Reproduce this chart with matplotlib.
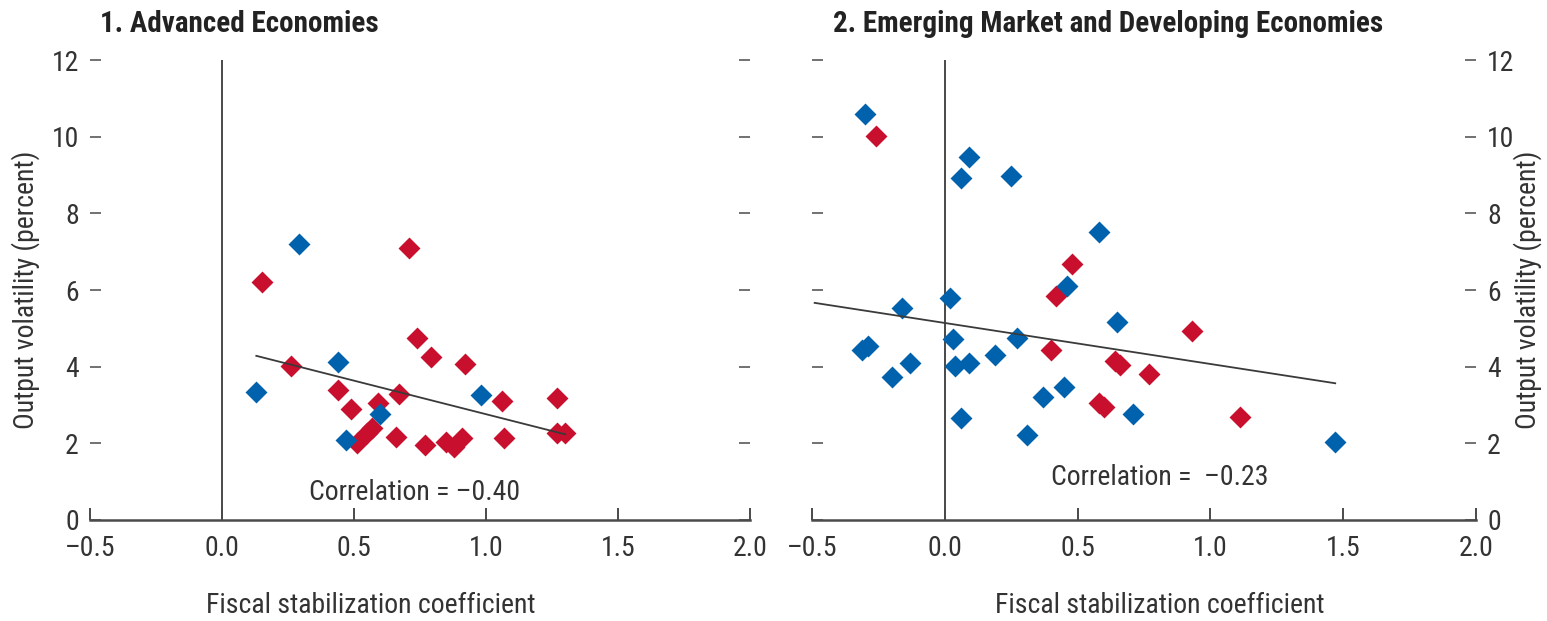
import numpy as np
import matplotlib
matplotlib.use('Agg')
import matplotlib.pyplot as plt
from matplotlib import font_manager


def pick_font(names):
    # first narrow-ish family that is actually installed
    for n in names:
        try:
            font_manager.findfont(n, fallback_to_default=False)
            return n
        except ValueError:
            pass
    return 'DejaVu Sans'


main_font = pick_font(['Roboto Condensed', 'Liberation Sans Narrow',
                       'Open Sans Condensed', 'Liberation Sans'])
plt.rcParams['font.family'] = [main_font, 'DejaVu Sans']

red = '#C8102E'
blue = '#0062AD'
line_color = '#3a3a3a'
text_color = '#333333'

# 1. Advanced economies
ae_red_x = [0.15, 0.71, 0.26, 0.74, 0.79, 0.92, 0.44, 0.49, 0.59, 0.67, 0.55, 0.57,
            0.51, 0.66, 0.77, 0.85, 0.88, 0.91, 1.06, 1.07, 1.27, 1.27, 1.30]
ae_red_y = [6.22, 7.09, 4.03, 4.74, 4.26, 4.07, 3.38, 2.89, 3.05, 3.28, 2.26, 2.39,
            2.00, 2.17, 1.96, 2.04, 1.91, 2.14, 3.10, 2.14, 3.19, 2.27, 2.27]
ae_blue_x = [0.29, 0.13, 0.44, 0.60, 0.47, 0.98]
ae_blue_y = [7.21, 3.33, 4.11, 2.77, 2.09, 3.25]
ae_fit_x = [0.13, 1.30]
ae_fit = (-1.75, 4.51)  # slope, intercept
ae_corr = '\u20130.40'

# 2. Emerging market and developing economies
em_red_x = [-0.26, 0.48, 0.42, 0.40, 0.64, 0.66, 0.77, 0.58, 0.60, 0.93, 1.11]
em_red_y = [10.03, 6.68, 5.85, 4.44, 4.16, 4.05, 3.81, 3.05, 2.96, 4.93, 2.70]
em_blue_x = [-0.30, 0.09, 0.06, 0.25, 0.58, 0.46, 0.02, -0.16, -0.31, -0.29, -0.20,
             -0.13, 0.03, 0.04, 0.09, 0.19, 0.27, 0.06, 0.31, 0.37, 0.45, 0.65,
             0.71, 1.47]
em_blue_y = [10.60, 9.47, 8.91, 8.98, 7.52, 6.11, 5.80, 5.54, 4.44, 4.54, 3.73,
             4.09, 4.72, 4.02, 4.09, 4.31, 4.74, 2.66, 2.22, 3.22, 3.48, 5.16,
             2.77, 2.03]
em_fit_x = [-0.49, 1.47]
em_fit = (-1.07, 5.14)
em_corr = '\u20130.23'

x_ticks = [-0.5, 0.0, 0.5, 1.0, 1.5, 2.0]
x_labels = ['\u20130.5', '0.0', '0.5', '1.0', '1.5', '2.0']
y_ticks = [0, 2, 4, 6, 8, 10, 12]

W, H = 1547, 621
fig = plt.figure(figsize=(W / 100, H / 100), dpi=100)
fs = 20


def setup_axes(ax, side):
    ax.set_xlim(-0.5, 2.0)
    ax.set_ylim(0, 12)
    for s in ['top', 'left', 'right']:
        ax.spines[s].set_visible(False)
    ax.spines['bottom'].set_color('#4a4a4a')
    ax.spines['bottom'].set_linewidth(1.8)
    ax.set_xticks(x_ticks)
    ax.set_xticklabels(x_labels)
    ax.set_yticks(y_ticks)
    ax.tick_params(axis='x', direction='in', length=9, width=1.4,
                   color='#4a4a4a', pad=11, labelsize=fs, labelcolor=text_color)
    ax.tick_params(axis='y', direction='in', length=8, width=1.1,
                   color='#4a4a4a', left=True, right=True,
                   labelleft=(side == 'left'), labelright=(side == 'right'),
                   pad=8, labelsize=fs, labelcolor=text_color)
    ax.axvline(0, color=line_color, lw=1.3, zorder=1)


def draw_panel(ax, rx, ry, bx, by, fit_x, fit, corr_pos, corr_text):
    ax.scatter(rx, ry, marker='D', s=125, color=red, linewidths=0, zorder=3)
    ax.scatter(bx, by, marker='D', s=125, color=blue, linewidths=0, zorder=3)
    fx = np.array(fit_x)
    ax.plot(fx, fit[0] * fx + fit[1], color=line_color, lw=1.3, zorder=4)
    ax.text(corr_pos[0], corr_pos[1], corr_text, ha='center', va='center',
            fontsize=fs, color=text_color)


ax1 = fig.add_axes([90 / W, 1 - 520 / H, 660 / W, 460 / H])
setup_axes(ax1, 'left')
draw_panel(ax1, ae_red_x, ae_red_y, ae_blue_x, ae_blue_y, ae_fit_x, ae_fit,
           (0.73, 0.73), 'Correlation = ' + ae_corr)
ax1.set_xlabel('Fiscal stabilization coefficient', fontsize=fs, color=text_color,
               va='center')
ax1.xaxis.set_label_coords(0.426, -0.185)
ax1.set_ylabel('Output volatility (percent)', fontsize=fs, color=text_color,
               va='center')
ax1.yaxis.set_label_coords(-0.098, 0.5)

ax2 = fig.add_axes([812 / W, 1 - 520 / H, 664 / W, 460 / H])
setup_axes(ax2, 'right')
draw_panel(ax2, em_red_x, em_red_y, em_blue_x, em_blue_y, em_fit_x, em_fit,
           (0.81, 1.12), 'Correlation =  ' + em_corr)
ax2.set_xlabel('Fiscal stabilization coefficient', fontsize=fs, color=text_color,
               va='center')
ax2.xaxis.set_label_coords(0.524, -0.185)
ax2.yaxis.set_label_position('right')
ax2.set_ylabel('Output volatility (percent)', fontsize=fs, color=text_color,
               va='center', rotation=90)
ax2.yaxis.set_label_coords(1.077, 0.5)

fig.text(100 / W, 1 - 24 / H, '1. Advanced Economies', fontsize=fs + 1,
         fontweight='bold', ha='left', va='center', color='#222222')
fig.text(833 / W, 1 - 24 / H, '2. Emerging Market and Developing Economies',
         fontsize=fs + 1, fontweight='bold', ha='left', va='center', color='#222222')

plt.savefig('out.png', dpi=100)
plt.close()
